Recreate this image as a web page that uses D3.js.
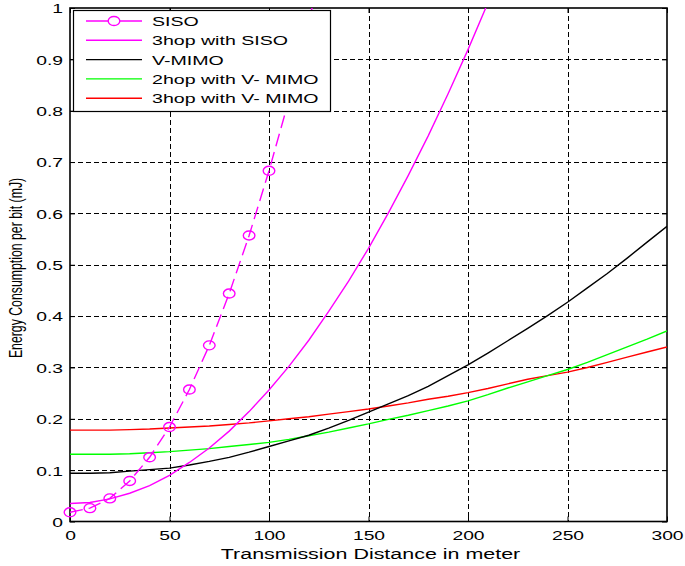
<!DOCTYPE html>
<html>
<head>
<meta charset="utf-8">
<script src="https://cdn.jsdelivr.net/npm/d3@7"></script>
<style>
  html, body { margin: 0; padding: 0; background: #fff; }
  svg { display: block; }
  text { font-family: "Liberation Sans", Arial, Helvetica, sans-serif; fill: #000; }
</style>
</head>
<body>
<div id="chart"></div>
<script>
// ---------------- data ----------------
const distance = [0,10,20,30,40,50,60,70,80,90,100,110,120,130,140,150,160,170,180,190,200,210,220,230,240,250,260,270,280,290,300];

const sisoX = [0,10,20,30,40,50,60,70,80,90,100,110,120,130];
const siso  = [0.018,0.026,0.045,0.079,0.125,0.184,0.257,0.343,0.444,0.557,0.683,0.821,0.973,1.139];

const hop3SisoX = [0,10,20,30,40,50,60,70,80,90,100,110,120,130,140,150,160,170,180,190,200,210];
const hop3Siso  = [0.035,0.037,0.044,0.055,0.070,0.090,0.115,0.143,0.176,0.214,0.256,0.302,0.353,0.409,0.468,0.532,0.601,0.674,0.751,0.833,0.919,1.010];

const vMimo    = [0.094,0.094,0.095,0.098,0.101,0.104,0.110,0.117,0.125,0.135,0.146,0.157,0.168,0.182,0.197,0.213,0.229,0.245,0.263,0.284,0.305,0.328,0.352,0.376,0.401,0.427,0.455,0.483,0.513,0.544,0.575];
const hop2VMimo = [0.131,0.131,0.131,0.132,0.134,0.136,0.139,0.142,0.146,0.150,0.154,0.160,0.167,0.174,0.182,0.190,0.199,0.207,0.216,0.225,0.235,0.247,0.260,0.272,0.284,0.296,0.310,0.325,0.340,0.355,0.371];
const hop3VMimo = [0.178,0.178,0.178,0.179,0.180,0.182,0.184,0.186,0.189,0.192,0.196,0.200,0.204,0.209,0.214,0.219,0.225,0.231,0.238,0.244,0.251,0.259,0.268,0.277,0.284,0.291,0.300,0.310,0.320,0.330,0.340];

const xTickValues = [0,50,100,150,200,250,300];
const xTickLabels = ["0","50","100","150","200","250","300"];
const yTickValues = [0,0.1,0.2,0.3,0.4,0.5,0.6,0.7,0.8,0.9,1];
const yTickLabels = ["0","0.1","0.2","0.3","0.4","0.5","0.6","0.7","0.8","0.9","1"];

const seriesNames  = ["SISO","3hop with SISO","V-MIMO","2hop with V- MIMO","3hop with V- MIMO"];
const seriesColors = ["#ff00ff","#ff00ff","#000000","#00ff00","#ff0000"];

const xTitle = "Transmission Distance in meter";
const yTitle = "Energy Consumption per bit (mJ)";

// ---------------- layout ----------------
const W = 685, H = 566;
const L = 70, R = 667, T = 8, B = 521.5;
const SX = 1.43; // horizontal stretch of the reference's text

const svg = d3.select("#chart").append("svg").attr("width", W).attr("height", H);

const x = d3.scaleLinear().domain([0, 300]).range([L, R]);
const y = d3.scaleLinear().domain([0, 1]).range([B, T]);
const crisp = v => Math.round(v) + 0.5;

svg.append("defs").append("clipPath").attr("id", "plotClip")
  .append("rect").attr("x", L).attr("y", T).attr("width", R - L).attr("height", B - T);

// grid
const grid = svg.append("g").attr("stroke", "#000").attr("stroke-width", 1)
  .attr("stroke-dasharray", "5,3").attr("fill", "none");
xTickValues.slice(1, -1).forEach(v => {
  grid.append("line").attr("x1", crisp(x(v))).attr("x2", crisp(x(v))).attr("y1", T).attr("y2", B);
});
yTickValues.slice(1, -1).forEach(v => {
  grid.append("line").attr("x1", L).attr("x2", R).attr("y1", crisp(y(v))).attr("y2", crisp(y(v)));
});

// axes (inward ticks)
function styleAxis(g) {
  g.select(".domain").remove();
  g.selectAll(".tick line").attr("stroke", "#000").attr("stroke-width", 1);
}
const xAxis = svg.append("g").attr("transform", `translate(0,${B})`)
  .call(d3.axisBottom(x).tickValues(xTickValues).tickSizeInner(-5).tickSizeOuter(0)
    .tickFormat((d, i) => xTickLabels[i]));
styleAxis(xAxis);
xAxis.selectAll(".tick text")
  .attr("y", 0).attr("dy", 0)
  .attr("transform", `translate(0,18.5) scale(${SX},1)`)
  .style("font-size", "13.5px");

const yAxis = svg.append("g").attr("transform", `translate(${L},0)`)
  .call(d3.axisLeft(y).tickValues(yTickValues).tickSizeInner(-5).tickSizeOuter(0)
    .tickFormat((d, i) => yTickLabels[i]));
styleAxis(yAxis);
yAxis.selectAll(".tick text")
  .attr("x", 0).attr("dy", "0.36em")
  .attr("transform", `translate(-7,0) scale(${SX},1)`)
  .style("font-size", "13.5px");

const xTop = svg.append("g").attr("transform", `translate(0,${T})`)
  .call(d3.axisTop(x).tickValues(xTickValues).tickSizeInner(-5).tickSizeOuter(0).tickFormat(""));
styleAxis(xTop);
const yRight = svg.append("g").attr("transform", `translate(${R},0)`)
  .call(d3.axisRight(y).tickValues(yTickValues).tickSizeInner(-5).tickSizeOuter(0).tickFormat(""));
styleAxis(yRight);

// frame
svg.append("rect").attr("x", L).attr("y", T).attr("width", R - L).attr("height", B - T)
  .attr("fill", "none").attr("stroke", "#000").attr("stroke-width", 1.6);

// lines
const plot = svg.append("g").attr("clip-path", "url(#plotClip)");
const line = d3.line().x(d => x(d[0])).y(d => y(d[1]));

const seriesData = [
  sisoX.map((d, i) => [d, siso[i]]),
  hop3SisoX.map((d, i) => [d, hop3Siso[i]]),
  distance.map((d, i) => [d, vMimo[i]]),
  distance.map((d, i) => [d, hop2VMimo[i]]),
  distance.map((d, i) => [d, hop3VMimo[i]])
];

[4, 3, 2, 1, 0].forEach(k => {
  plot.append("path").datum(seriesData[k])
    .attr("d", line).attr("fill", "none")
    .attr("stroke", seriesColors[k]).attr("stroke-width", 1.4)
    .attr("stroke-dasharray", k === 0 ? "13,6" : null);
});

// SISO markers
svg.append("g").selectAll("ellipse").data(seriesData[0].filter(d => d[1] <= 1))
  .join("ellipse")
  .attr("cx", d => x(d[0])).attr("cy", d => y(d[1]))
  .attr("rx", 5.8).attr("ry", 4.5)
  .attr("fill", "none").attr("stroke", seriesColors[0]).attr("stroke-width", 1.4);

// legend
const lg = svg.append("g");
const lgX = 73, lgY = 10, lgW = 257, lgH = 101;
lg.append("rect").attr("x", lgX + 0.5).attr("y", lgY + 0.5).attr("width", lgW).attr("height", lgH)
  .attr("fill", "#fff").attr("stroke", "#000").attr("stroke-width", 1.2);
seriesNames.forEach((name, i) => {
  const yy = lgY + 11 + i * 19.3;
  lg.append("line").attr("x1", lgX + 13).attr("x2", lgX + 69).attr("y1", yy).attr("y2", yy)
    .attr("stroke", seriesColors[i]).attr("stroke-width", 1.4);
  if (i === 0) {
    lg.append("ellipse").attr("cx", lgX + 41).attr("cy", yy).attr("rx", 5.8).attr("ry", 4.5)
      .attr("fill", "#fff").attr("stroke", seriesColors[i]).attr("stroke-width", 1.4);
  }
  lg.append("text").attr("transform", `translate(${lgX + 79},${yy}) scale(${SX},1)`)
    .attr("dy", "0.36em").style("font-size", "13.7px").text(name);
});

// axis titles
svg.append("text")
  .attr("transform", `translate(${(L + R) / 2 + 2},${559}) scale(${SX},1)`)
  .attr("text-anchor", "middle").style("font-size", "15px").text(xTitle);

svg.append("text")
  .attr("transform", `translate(${22},${268}) scale(${SX},1) rotate(-90)`)
  .attr("text-anchor", "middle").style("font-size", "12.3px").text(yTitle);
</script>
</body>
</html>
